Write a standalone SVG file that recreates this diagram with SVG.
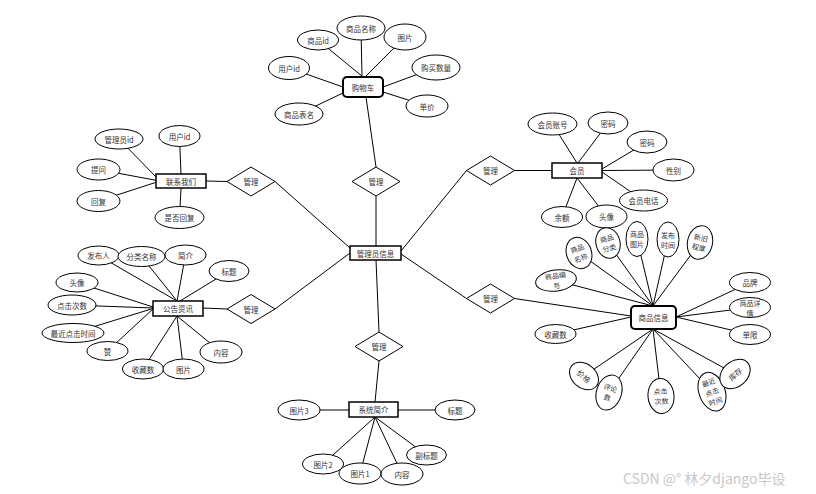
<svg xmlns="http://www.w3.org/2000/svg" width="816" height="494" viewBox="0 0 816 494">
<style>
text{font-family:"Noto Sans CJK SC","Liberation Sans",sans-serif;font-size:7.5px;fill:#333;text-anchor:middle;dominant-baseline:central}
text.s{font-size:7px}
.c line{stroke:#000;stroke-width:1}
ellipse{fill:#fff;stroke:#000;stroke-width:1}
.e{fill:#fff;stroke:#000;stroke-width:1.5}
.r{fill:#fff;stroke:#000;stroke-width:2}
.d{fill:#fff;stroke:#000;stroke-width:1}
.wm{font-size:14px;fill:#c8c8c8;text-anchor:start;dominant-baseline:auto;font-family:"Noto Sans CJK SC","Liberation Sans",sans-serif}
</style>
<rect width="816" height="494" fill="#fff"/>
<g class="c" id="connectors">
<line x1="275" y1="181.5" x2="350" y2="248"/>
<line x1="275" y1="309" x2="350" y2="253"/>
<line x1="376" y1="196" x2="376" y2="246"/>
<line x1="466.5" y1="170.5" x2="401" y2="251"/>
<line x1="466.5" y1="298.5" x2="401" y2="254"/>
<line x1="379" y1="332" x2="376" y2="260"/>
<line x1="376" y1="167" x2="366" y2="97"/>
<line x1="227" y1="181.5" x2="206" y2="181"/>
<line x1="514.5" y1="170.5" x2="552" y2="170.5"/>
<line x1="227" y1="309" x2="203" y2="308"/>
<line x1="514.5" y1="298.5" x2="631" y2="316"/>
<line x1="379" y1="361" x2="375" y2="402"/>
<line x1="318" y1="40" x2="363" y2="77"/>
<line x1="361" y1="28" x2="362" y2="77"/>
<line x1="405" y1="37" x2="365" y2="77"/>
<line x1="289" y1="68" x2="343" y2="87"/>
<line x1="299" y1="114" x2="343" y2="93"/>
<line x1="436" y1="67.5" x2="383" y2="87"/>
<line x1="427" y1="106" x2="383" y2="92"/>
<line x1="119" y1="139" x2="157" y2="178"/>
<line x1="179.5" y1="136" x2="181" y2="174"/>
<line x1="98.5" y1="169.5" x2="157" y2="180.5"/>
<line x1="98.5" y1="201" x2="157" y2="182"/>
<line x1="179.5" y1="217.5" x2="181" y2="188"/>
<line x1="552.5" y1="124" x2="577" y2="163"/>
<line x1="608" y1="123" x2="578" y2="163"/>
<line x1="647" y1="142" x2="602" y2="169"/>
<line x1="673.5" y1="170" x2="602" y2="170.5"/>
<line x1="643.5" y1="200.5" x2="602" y2="172"/>
<line x1="562" y1="217" x2="577" y2="178"/>
<line x1="606.5" y1="216.5" x2="577" y2="178"/>
<line x1="98.5" y1="255.5" x2="177" y2="301"/>
<line x1="141.5" y1="256.5" x2="177" y2="301"/>
<line x1="185.5" y1="255" x2="177" y2="301"/>
<line x1="229" y1="271" x2="180" y2="301"/>
<line x1="77" y1="282.5" x2="153" y2="307"/>
<line x1="72" y1="305" x2="153" y2="308"/>
<line x1="73" y1="333" x2="153" y2="308.5"/>
<line x1="107.5" y1="351" x2="153" y2="309"/>
<line x1="143" y1="369" x2="177" y2="316"/>
<line x1="183.5" y1="369" x2="177" y2="316"/>
<line x1="221" y1="352" x2="177" y2="316"/>
<line x1="556" y1="280.5" x2="653" y2="306"/>
<line x1="579" y1="253" x2="653" y2="306"/>
<line x1="608" y1="243" x2="653" y2="306"/>
<line x1="637" y1="239" x2="653" y2="306"/>
<line x1="668" y1="239.5" x2="653" y2="306"/>
<line x1="700" y1="242.5" x2="653" y2="306"/>
<line x1="750" y1="282.5" x2="676" y2="317"/>
<line x1="750" y1="307.5" x2="676" y2="317"/>
<line x1="750" y1="334.5" x2="676" y2="317"/>
<line x1="555.5" y1="334" x2="631" y2="317"/>
<line x1="584" y1="376" x2="653" y2="329"/>
<line x1="609" y1="392.5" x2="653" y2="329"/>
<line x1="661" y1="396" x2="653" y2="329"/>
<line x1="712" y1="391.7" x2="653" y2="329"/>
<line x1="735" y1="374" x2="653" y2="329"/>
<line x1="299" y1="410" x2="349" y2="410"/>
<line x1="455" y1="410" x2="398" y2="410"/>
<line x1="323" y1="464" x2="375" y2="417"/>
<line x1="360" y1="473.5" x2="375" y2="417"/>
<line x1="402" y1="474" x2="375" y2="417"/>
<line x1="426.5" y1="455" x2="375" y2="417"/>
</g>

<g id="admin"><rect class="e" x="350" y="246" width="51" height="14"/><text x="375.5" y="253">管理员信息</text></g>

<g id="rel-contact"><polygon class="d" points="227,181.5 251,167 275,181.5 251,196"/><text x="251" y="181.5">管理</text></g>
<g id="rel-cart"><polygon class="d" points="352,181.5 376,167 400,181.5 376,196"/><text x="376" y="181.5">管理</text></g>
<g id="rel-member"><polygon class="d" points="466.5,170.5 490.5,156 514.5,170.5 490.5,185"/><text x="490.5" y="170.5">管理</text></g>
<g id="rel-goods"><polygon class="d" points="466.5,298.5 490.5,284 514.5,298.5 490.5,313"/><text x="490.5" y="298.5">管理</text></g>
<g id="rel-notice"><polygon class="d" points="227,309 251,294.5 275,309 251,323.5"/><text x="251" y="309">管理</text></g>
<g id="rel-system"><polygon class="d" points="355,346.5 379,332 403,346.5 379,361"/><text x="379" y="346.5">管理</text></g>

<g id="cart">
<rect class="r" x="343" y="77" width="40" height="20" rx="4"/><text x="363" y="87.5">购物车</text>
<ellipse cx="318" cy="40" rx="20.5" ry="10"/><text x="318" y="40">商品id</text>
<ellipse cx="361" cy="28" rx="24" ry="12"/><text x="361" y="28">商品名称</text>
<ellipse cx="405" cy="37" rx="21" ry="13"/><text x="405" y="37">图片</text>
<ellipse cx="289" cy="68" rx="20.5" ry="11.5"/><text x="289" y="68">用户id</text>
<ellipse cx="436" cy="67.5" rx="24" ry="12.5"/><text x="436" y="67.5">购买数量</text>
<ellipse cx="427" cy="106" rx="21" ry="11"/><text x="427" y="106">单价</text>
<ellipse cx="299" cy="114" rx="24" ry="11"/><text x="299" y="114">商品表名</text>
</g>

<g id="contact">
<rect class="e" x="156" y="174" width="50" height="14"/><text x="181" y="181">联系我们</text>
<ellipse cx="119" cy="139" rx="24" ry="10"/><text x="119" y="139">管理员id</text>
<ellipse cx="179.5" cy="136" rx="20.5" ry="10.5"/><text x="179.5" y="136">用户id</text>
<ellipse cx="98.5" cy="169.5" rx="21.5" ry="10.5"/><text x="98.5" y="169.5">提问</text>
<ellipse cx="98.5" cy="201" rx="21.5" ry="10.5"/><text x="98.5" y="201">回复</text>
<ellipse cx="179.5" cy="217.5" rx="24.5" ry="11"/><text x="179.5" y="217.5">是否回复</text>
</g>

<g id="member">
<rect class="e" x="552" y="163" width="50" height="15"/><text x="577" y="170.5">会员</text>
<ellipse cx="552.5" cy="124" rx="24.5" ry="11"/><text x="552.5" y="124">会员账号</text>
<ellipse cx="608" cy="123" rx="20" ry="11"/><text x="608" y="123">密码</text>
<ellipse cx="647" cy="142" rx="20" ry="11"/><text x="647" y="142">密码</text>
<ellipse cx="673.5" cy="170" rx="20.5" ry="11"/><text x="673.5" y="170">性别</text>
<ellipse cx="643.5" cy="200.5" rx="24" ry="10.5"/><text x="643.5" y="200.5">会员电话</text>
<ellipse cx="562" cy="217" rx="20.5" ry="10.5"/><text x="562" y="217">余额</text>
<ellipse cx="606.5" cy="216.5" rx="20.5" ry="11.5"/><text x="606.5" y="216.5">头像</text>
</g>

<g id="notice">
<rect class="e" x="153" y="301" width="50" height="15"/><text x="178" y="308.5">公告资讯</text>
<ellipse cx="98.5" cy="255.5" rx="20.5" ry="9.5"/><text x="98.5" y="255.5">发布人</text>
<ellipse cx="141.5" cy="256.5" rx="23.5" ry="10"/><text x="141.5" y="256.5">分类名称</text>
<ellipse cx="185.5" cy="255" rx="20.5" ry="10"/><text x="185.5" y="255">简介</text>
<ellipse cx="229" cy="271" rx="20" ry="10.5"/><text x="229" y="271">标题</text>
<ellipse cx="77" cy="282.5" rx="21" ry="9.5"/><text x="77" y="282.5">头像</text>
<ellipse cx="72" cy="305" rx="24" ry="10"/><text x="72" y="305">点击次数</text>
<ellipse cx="73" cy="333" rx="31" ry="9.5"/><text x="73" y="333">最近点击时间</text>
<ellipse cx="107.5" cy="351" rx="20.5" ry="9.5"/><text x="107.5" y="351">赞</text>
<ellipse cx="143" cy="369" rx="20.5" ry="10"/><text x="143" y="369">收藏数</text>
<ellipse cx="183.5" cy="369" rx="20.5" ry="10"/><text x="183.5" y="369">图片</text>
<ellipse cx="221" cy="352" rx="21" ry="11"/><text x="221" y="352">内容</text>
</g>

<g id="goods">
<rect class="r" x="631" y="306" width="45" height="23" rx="4"/><text x="653.5" y="317.5">商品信息</text>
<g transform="rotate(-8 556 280.5)"><ellipse cx="556" cy="280.5" rx="20.5" ry="10.5"/><text class="s" x="556" y="275.5">商品编</text><text class="s" x="556" y="285.5">号</text></g>
<g transform="rotate(-20 579 253)"><ellipse cx="579" cy="253" rx="12.5" ry="16"/><text class="s" x="579" y="248">商品</text><text class="s" x="579" y="258">名称</text></g>
<g transform="rotate(-15 608 243)"><ellipse cx="608" cy="243" rx="12" ry="15.5"/><text class="s" x="608" y="238">商品</text><text class="s" x="608" y="248">分类</text></g>
<ellipse cx="637" cy="239" rx="11" ry="17.5"/><text class="s" x="637" y="234">商品</text><text class="s" x="637" y="244">图片</text>
<ellipse cx="668" cy="239.5" rx="11" ry="17.5"/><text class="s" x="668" y="234.5">发布</text><text class="s" x="668" y="244.5">时间</text>
<g transform="rotate(12 700 242.5)"><ellipse cx="700" cy="242.5" rx="12.5" ry="17"/><text class="s" x="700" y="237.5">新旧</text><text class="s" x="700" y="247.5">程度</text></g>
<ellipse cx="750" cy="282.5" rx="20.5" ry="10"/><text x="750" y="282.5">品牌</text>
<ellipse cx="750" cy="307.5" rx="20.5" ry="10"/><text class="s" x="750" y="302.5">商品详</text><text class="s" x="750" y="312.5">情</text>
<ellipse cx="750" cy="334.5" rx="20.5" ry="10"/><text x="750" y="334.5">单限</text>
<ellipse cx="555.5" cy="334" rx="20.5" ry="9.5"/><text x="555.5" y="334">收藏数</text>
<g transform="rotate(40 584 376)"><ellipse cx="584" cy="376" rx="16" ry="12"/><text x="584" y="376">价格</text></g>
<g transform="rotate(18 609 392.5)"><ellipse cx="609" cy="392.5" rx="12.5" ry="18"/><text class="s" x="609" y="387.5">评论</text><text class="s" x="609" y="397.5">数</text></g>
<g transform="rotate(-5 661 396)"><ellipse cx="661" cy="396" rx="13" ry="17.5"/><text class="s" x="661" y="391">点击</text><text class="s" x="661" y="401">次数</text></g>
<g transform="rotate(-20 712 391.7)"><ellipse cx="712" cy="391.7" rx="13" ry="20"/><text class="s" x="712" y="381.7">最近</text><text class="s" x="712" y="391.7">点击</text><text class="s" x="712" y="401.7">时间</text></g>
<g transform="rotate(-42 735 374)"><ellipse cx="735" cy="374" rx="17" ry="12.5"/><text x="735" y="374">库存</text></g>
</g>

<g id="system">
<rect class="e" x="349" y="402" width="49" height="15"/><text x="373.5" y="409.5">系统简介</text>
<ellipse cx="299" cy="410" rx="21" ry="10"/><text x="299" y="410">图片3</text>
<ellipse cx="455" cy="410" rx="20" ry="10"/><text x="455" y="410">标题</text>
<ellipse cx="323" cy="464" rx="20.5" ry="10"/><text x="323" y="464">图片2</text>
<ellipse cx="360" cy="473.5" rx="21" ry="10.5"/><text x="360" y="473.5">图片1</text>
<ellipse cx="402" cy="474" rx="21" ry="11"/><text x="402" y="474">内容</text>
<ellipse cx="426.5" cy="455" rx="20" ry="10"/><text x="426.5" y="455">副标题</text>
</g>

<text class="wm" x="623" y="484">CSDN @°  林夕django毕设</text>
</svg>
